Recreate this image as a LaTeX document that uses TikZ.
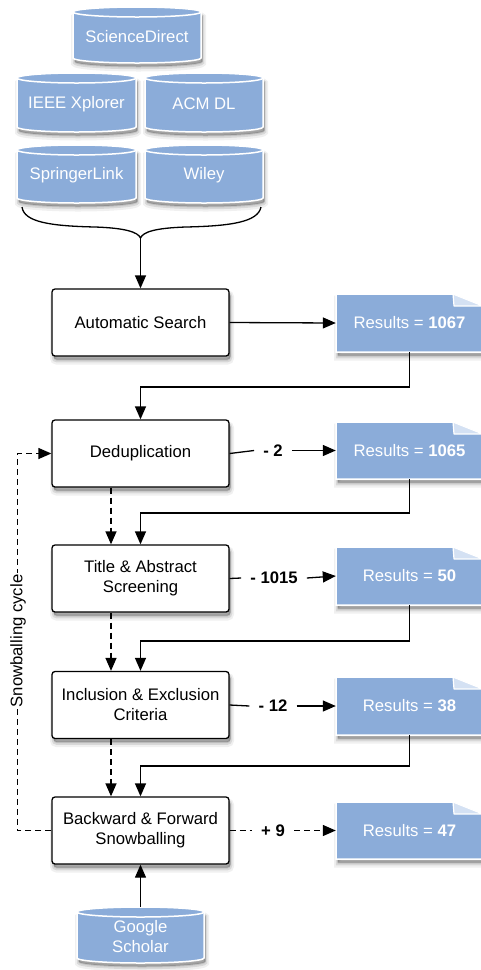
\documentclass[tikz,border=0pt]{standalone}
\usepackage{fontspec}
\setmainfont{Liberation Sans}
\usetikzlibrary{arrows.meta,calc}
\definecolor{dbblue}{RGB}{139,172,217}
\definecolor{foldblue}{RGB}{212,225,243}

\tikzset{
  base/.style={font=\fontsize{16.7}{20}\selectfont, align=center},
  shad/.style={
    preaction={draw=black, opacity=0.06, line width=7pt, transform canvas={xshift=1.5pt,yshift=-5pt}},
    preaction={fill=black, draw=black, opacity=0.10, line width=3.5pt, transform canvas={xshift=1.5pt,yshift=-4.5pt}},
    preaction={fill=black, opacity=0.25, transform canvas={xshift=1.5pt,yshift=-3.5pt}}},
  proc/.style={base, draw=black, line width=1.3pt, fill=white, rounded corners=3pt,
    minimum width=177pt, minimum height=67pt, inner sep=0pt, shad},
  dbtext/.style={base, text=white, minimum width=#1, inner sep=0pt},
  doctext/.style={base, text=white, minimum width=147pt, inner sep=0pt},
  lbl/.style={font=\fontsize{16.7}{20}\selectfont\bfseries, inner xsep=9pt, inner ysep=2pt},
  conn/.style={line width=1.3pt},
  arr/.style={conn, -{Triangle[length=13pt,width=11pt]}},
  dashline/.style={conn, dash pattern=on 6pt off 4pt},
  dasharr/.style={arr, dash pattern=on 6pt off 4pt},
  dbshape/.style={fill=dbblue, draw=white, line width=1.5pt, shad},
}

% name, cx, cy, width, height, text
\newcommand\dbcyl[6]{%
  \pgfmathsetmacro\rx{#4/2}\pgfmathsetmacro\hh{#5/2}%
  \begin{scope}[shift={(#2,#3)}]
    \path[dbshape] (-\rx,\hh-5) -- (-\rx,-\hh+5)
      arc[start angle=180,end angle=360,x radius=\rx pt,y radius=5pt]
      -- (\rx,\hh-5)
      arc[start angle=0,end angle=180,x radius=\rx pt,y radius=5pt] -- cycle;
    \draw[white, line width=1.5pt] (-\rx,\hh-5)
      arc[start angle=180,end angle=360,x radius=\rx pt,y radius=5pt];
    \node[dbtext=#4pt, minimum height=#5pt] (#1) at (0,-1.5) {#6};
  \end{scope}}

% name, cx, cy, height, text
\newcommand\docnode[5]{%
  \pgfmathsetmacro\hh{#4/2}%
  \begin{scope}[shift={(#2,#3)}]
    \path[dbshape] (-73.5,-\hh) -- (-73.5,\hh) -- (43.5,\hh) -- (73.5,\hh-12)
      -- (73.5,-\hh) -- cycle;
    \path[fill=foldblue, draw=white, line width=1.2pt, line join=round]
      (43.5,\hh) -- (44.5,\hh-12) -- (73.5,\hh-12) -- cycle;
    \node[doctext, minimum height=#4pt] (#1) at (0,0) {#5};
  \end{scope}}

\begin{document}
\begin{tikzpicture}[x=1pt,y=1pt]
\useasboundingbox (0,0) rectangle (481,-970);

% databases
\dbcyl{sd}{137}{-35}{128}{56}{ScienceDirect}
\dbcyl{ieee}{76.5}{-102.5}{119}{59}{IEEE Xplorer}
\dbcyl{acm}{204}{-102.5}{118}{59}{ACM DL}
\dbcyl{spr}{76.5}{-174}{119}{58}{SpringerLink}
\dbcyl{wiley}{204}{-174}{118}{58}{Wiley}
\dbcyl{gs}{140.5}{-935}{127}{56}{Google\\Scholar}

% process boxes
\node[proc] (auto) at (140.5,-322.5) {Automatic Search};
\node[proc] (dedup) at (140.5,-453.5) {Deduplication};
\node[proc] (title) at (140.5,-578.5) {Title \& Abstract\\Screening};
\node[proc] (incl) at (140.5,-705) {Inclusion \& Exclusion\\Criteria};
\node[proc] (back) at (140.5,-830.5) {Backward \& Forward\\Snowballing};

% results
\docnode{r1}{409.5}{-323}{58}{Results = \textbf{1067}}
\docnode{r2}{409.5}{-450.5}{57}{Results = \textbf{1065}}
\docnode{r3}{409.5}{-576}{58}{Results = \textbf{50}}
\docnode{r4}{409.5}{-706}{58}{Results = \textbf{38}}
\docnode{r5}{409.5}{-830.5}{57}{Results = \textbf{47}}

% labels
\node[lbl] (l2) at (273,-450.5) {- 2};
\node[lbl] (l3) at (274,-578) {- 1015};
\node[lbl] (l4) at (273,-706) {- 12};
\node[lbl] (l5) at (273,-830.5) {+ 9};

% brace
\coordinate (bt) at (140.5,-238);
\draw[conn] (22,-207) .. controls (24,-222) and (50,-226) .. (95,-227)
  .. controls (125,-228) and (138,-232) .. (bt)
  .. controls (143,-232) and (155,-228) .. (186,-227)
  .. controls (231,-226) and (258,-222) .. (261,-207);
\draw[arr] (bt) -- (auto.north);

% main flow
\draw[arr] (auto.east) -- (r1.west);
\coordinate (h1) at (0,-387);
\coordinate (h2) at (0,-513);
\coordinate (h3) at (0,-641);
\coordinate (h4) at (0,-766);
\draw[arr] (r1.south) -- (r1.south |- h1) -| (dedup.north);
\draw[arr] (r2.south) -- (r2.south |- h2) -| (title.north);
\draw[arr] (r3.south) -- (r3.south |- h3) -| (incl.north);
\draw[arr] (r4.south) -- (r4.south |- h4) -| (back.north);

\draw[conn] (dedup.east) -- (l2.west);
\draw[arr] (l2.east) -- (r2.west);
\draw[conn] (title.east) -- (l3.west);
\draw[arr] (l3.east) -- (r3.west);
\draw[conn] (incl.east) -- (l4.west);
\draw[arr] (l4.east) -- (r4.west);
\draw[dashline] (back.east) -- (l5.west);
\draw[dasharr] (l5.east) -- (r5.west);

% dashed verticals
\draw[dasharr] ([xshift=-29.5pt]dedup.south) -- ([xshift=-29.5pt]title.north);
\draw[dasharr] ([xshift=-29.5pt]title.south) -- ([xshift=-29.5pt]incl.north);
\draw[dasharr] ([xshift=-29.5pt]incl.south) -- ([xshift=-29.5pt]back.north);

% snowballing cycle
\draw[dasharr] (back.west) -- ++(-34,0) |- (dedup.west);
\node[base, rotate=90, fill=white, inner sep=2pt] (snow) at (18,-641) {Snowballing cycle};

% google scholar
\draw[arr] ([yshift=1.5pt]gs.north) -- (back.south);
\end{tikzpicture}
\end{document}
